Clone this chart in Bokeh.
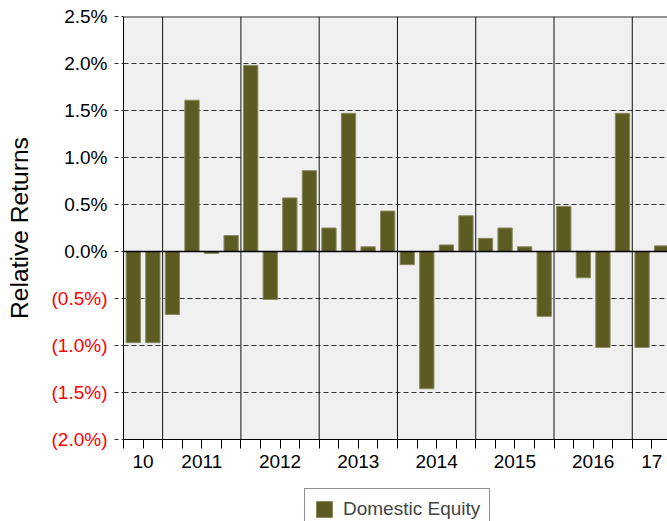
from bokeh.plotting import figure
from bokeh.layouts import row, column
from bokeh.models import (Range1d, FixedTicker, Span, ColumnDataSource,
                          Legend, LegendItem)
from bokeh.core.properties import value
from bokeh.embed import file_html
from bokeh.resources import INLINE
import math

# ---- data ----
quarters = ["2010 Q3", "2010 Q4",
            "2011 Q1", "2011 Q2", "2011 Q3", "2011 Q4",
            "2012 Q1", "2012 Q2", "2012 Q3", "2012 Q4",
            "2013 Q1", "2013 Q2", "2013 Q3", "2013 Q4",
            "2014 Q1", "2014 Q2", "2014 Q3", "2014 Q4",
            "2015 Q1", "2015 Q2", "2015 Q3", "2015 Q4",
            "2016 Q1", "2016 Q2", "2016 Q3", "2016 Q4",
            "2017 Q1", "2017 Q2"]
domestic_equity = [-0.97, -0.97,
                   -0.67, 1.61, -0.02, 0.17,
                   1.98, -0.51, 0.57, 0.86,
                   0.25, 1.47, 0.05, 0.43,
                   -0.14, -1.46, 0.07, 0.38,
                   0.14, 0.25, 0.05, -0.69,
                   0.48, -0.28, -1.02, 1.47,
                   -1.02, 0.06]
year_names = ["2010", "2011", "2012", "2013", "2014", "2015", "2016", "2017"]
year_tick_labels = ["10", "2011", "2012", "2013", "2014", "2015", "2016", "17"]
y_ticks = [-2.0, -1.5, -1.0, -0.5, 0.0, 0.5, 1.0, 1.5, 2.0, 2.5]
y_title = "Relative Returns"
series_name = "Domestic Equity"

FONT = "Liberation Sans"
TICK_FS = "19px"
BAR = "#5c5b21"
BAR_EDGE = "#8a8960"
W = 667
TOP, BOTTOM = 16, 48
H_MAIN = 487
H_LEG = 34
LEFT_W = 111
Y_RANGE = (-2.0, 2.5)

x_idx = list(range(len(quarters)))
q_years = [q.split()[0] for q in quarters]


def fmt(v):
    return f"{v:.1f}%" if v >= 0 else f"({-v:.1f}%)"


# ---- left strip: y tick labels and axis title (same vertical scale as chart) ----
ppu = (H_MAIN - TOP - BOTTOM) / (Y_RANGE[1] - Y_RANGE[0])
pl = figure(width=LEFT_W, height=H_MAIN, output_backend="svg", toolbar_location=None,
            x_range=Range1d(0, LEFT_W),
            y_range=Range1d(Y_RANGE[0] - BOTTOM / ppu, Y_RANGE[1] + TOP / ppu),
            min_border_left=0, min_border_right=0, min_border_top=0,
            min_border_bottom=0, x_axis_type=None, y_axis_type=None)
pl.frame_align = False
pl.outline_line_color = None
pl.grid.visible = False
pl.background_fill_color = "white"
lab_src = ColumnDataSource(dict(
    y=y_ticks, x=[107] * len(y_ticks), t=[fmt(v) for v in y_ticks],
    c=["black" if v >= 0 else "#ff0000" for v in y_ticks]))
pl.text(x="x", y="y", text="t", source=lab_src, text_color="c",
        text_align="right", text_baseline="middle",
        text_font=value(FONT), text_font_size=TICK_FS)
pl.text(x=[19], y=[(Y_RANGE[0] + Y_RANGE[1]) / 2], text=[y_title], angle=math.pi / 2,
        text_align="center", text_baseline="middle", text_color="black",
        text_font=value(FONT), text_font_size="24.6px")

# ---- main chart ----
p = figure(width=W - LEFT_W, height=H_MAIN, output_backend="svg", toolbar_location=None,
           x_range=Range1d(-0.5, 27.3), y_range=Range1d(*Y_RANGE),
           min_border_left=12, min_border_right=0, min_border_top=TOP,
           min_border_bottom=BOTTOM)
p.frame_align = False
p.background_fill_color = "#f0f0f0"
p.border_fill_color = "white"
p.outline_line_color = None

p.xgrid.grid_line_color = None
p.ygrid.ticker = FixedTicker(ticks=[t for t in y_ticks if t not in (0.0, Y_RANGE[0], Y_RANGE[1])])
p.ygrid.grid_line_color = "#333333"
p.ygrid.grid_line_dash = "5 3"
p.ygrid.grid_line_width = 1

for i in range(1, len(quarters)):
    if q_years[i] != q_years[i - 1]:
        p.add_layout(Span(location=i - 0.5, dimension="height",
                          line_color="#111111", line_width=1, level="underlay"))

src = ColumnDataSource(dict(x=x_idx, v=domestic_equity, q=quarters))
p.vbar(x="x", top="v", bottom=0, width=0.73, source=src,
       fill_color=BAR, line_color=BAR_EDGE, line_width=1)

p.add_layout(Span(location=0, dimension="width", line_color="black", line_width=1.5))
p.add_layout(Span(location=Y_RANGE[1], dimension="width", line_color="#333333", line_width=2))

year_pos = []
for y in year_names:
    idx = [i for i, qy in enumerate(q_years) if qy == y]
    year_pos.append(sum(idx) / len(idx))
bounds = [i - 0.5 for i in range(len(quarters) + 1)]
p.xaxis.ticker = FixedTicker(ticks=year_pos, minor_ticks=bounds)
p.xaxis.major_label_overrides = {pos: lab for pos, lab in zip(year_pos, year_tick_labels)}
p.xaxis.major_tick_in = 0
p.xaxis.major_tick_out = 0
p.xaxis.minor_tick_in = 0
p.xaxis.minor_tick_out = 9
p.xaxis.minor_tick_line_color = "black"
p.xaxis.axis_line_color = "black"
p.xaxis.major_label_text_font = FONT
p.xaxis.major_label_text_font_size = TICK_FS
p.xaxis.major_label_text_color = "black"
p.xaxis.major_label_standoff = 6

p.yaxis.ticker = FixedTicker(ticks=y_ticks)
p.yaxis.major_label_overrides = {t: "" for t in y_ticks}
p.yaxis.major_label_text_font_size = "0px"
p.yaxis.major_label_standoff = 0
p.yaxis.major_tick_in = 0
p.yaxis.major_tick_out = 9
p.yaxis.major_tick_line_dash = "4 3"
p.yaxis.major_tick_line_color = "#333333"
p.yaxis.minor_tick_line_color = None
p.yaxis.axis_line_color = "black"

# ---- legend strip ----
pg = figure(width=W, height=H_LEG, output_backend="svg", toolbar_location=None,
            x_range=Range1d(0, W), y_range=Range1d(0, H_LEG),
            min_border_left=0, min_border_right=0, min_border_top=0,
            min_border_bottom=0, x_axis_type=None, y_axis_type=None)
pg.frame_align = False
pg.outline_line_color = None
pg.grid.visible = False
pg.background_fill_color = "white"
r_leg = pg.vbar(x="x", top="v", bottom=0, width=0.73, source=src,
                fill_color=BAR, line_color=BAR_EDGE, line_width=1, visible=False)
legend = Legend(items=[LegendItem(label=series_name, renderers=[r_leg])],
                location=(304, -9), orientation="horizontal",
                glyph_width=20, glyph_height=20, label_height=20,
                label_standoff=9, padding=9, margin=0,
                label_text_font=FONT, label_text_font_size=TICK_FS,
                border_line_color="#222222", border_line_width=1,
                background_fill_color="white", background_fill_alpha=1,
                inactive_fill_alpha=0)
pg.add_layout(legend)

layout = column(row(pl, p, spacing=0), pg, spacing=0)
open("out.html", "w").write(file_html(layout, INLINE))
